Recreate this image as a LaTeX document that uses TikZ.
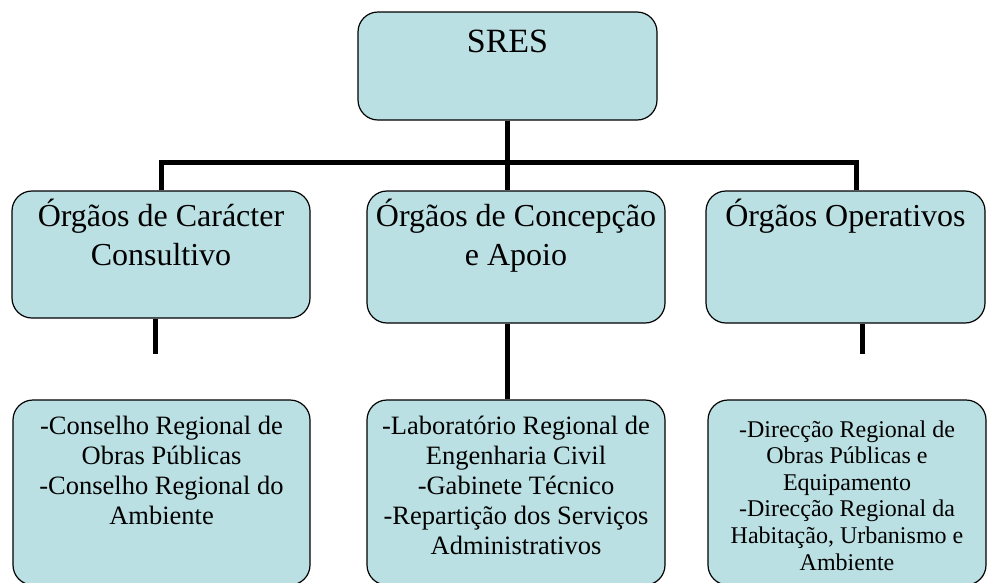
\documentclass[tikz,border=0pt]{standalone}
\usepackage{fontspec}
\setmainfont{Liberation Serif}
\usepackage{tikz}
\usetikzlibrary{positioning}
\definecolor{boxblue}{RGB}{187,224,227}
\tikzstyle{orgbox}=[draw,fill=boxblue,rounded corners=20pt,line width=1.2pt,inner sep=0pt]
\tikzstyle{link}=[line width=5pt]
\newcommand{\sresfont}{\fontsize{34}{40}\selectfont}
\newcommand{\grpfont}{\fontsize{32}{39}\selectfont}
\newcommand{\unitfont}{\fontsize{26.5}{30}\selectfont}
\newcommand{\smallunitfont}{\fontsize{24}{26.6}\selectfont}
\newcommand{\boxtext}[5]{\parbox[c][#2][t]{#1}{\vspace*{#3}\centering#4\strut#5\par}}

\begin{document}
\begin{tikzpicture}[x=1pt,y=-1pt]
\useasboundingbox (0,0) rectangle (992,582);
\node[orgbox] (A) at (507.5,66) {\boxtext{299pt}{108pt}{12pt}{\sresfont}{SRES}};
\node[orgbox] (B) at (161,254.5) {\boxtext{298pt}{127pt}{8pt}{\grpfont}{Órgãos de Carácter\\Consultivo}};
\node[orgbox] (C) at (516,257) {\boxtext{298pt}{132pt}{8pt}{\grpfont}{Órgãos de Concepção\\e Apoio}};
\node[orgbox] (D) at (845.5,257) {\boxtext{279pt}{132pt}{8pt}{\grpfont}{Órgãos Operativos}};
\node[orgbox] (E) at (161.5,492.5) {\boxtext{297pt}{185pt}{13pt}{\unitfont}{-Conselho Regional de\\Obras Públicas\\-Conselho Regional do\\Ambiente}};
\node[orgbox] (F) at (516,492.5) {\boxtext{298pt}{185pt}{13pt}{\unitfont}{-Laboratório Regional de\\Engenharia Civil\\-Gabinete Técnico\\-Repartição dos Serviços\\Administrativos}};
\node[orgbox] (G) at (847,492.5) {\boxtext{278pt}{185pt}{18.4pt}{\smallunitfont}{-Direcção Regional de\\Obras Públicas e\\Equipamento\\-Direcção Regional da\\Habitação, Urbanismo e\\Ambiente}};
\coordinate (L) at (161,162);
\coordinate (R) at (856,162);
\coordinate (e1) at (155,354);
\coordinate (g1) at (862,354);
\draw[link] (A.south) -- (A.south |- C.north);
\draw[link] (B.north -| L) -- (L) -- (R) -- (D.north -| R);
\draw[link] (B.south -| e1) -- (e1);
\draw[link] (C.south -| A.south) -- (F.north -| A.south);
\draw[link] (D.south -| g1) -- (g1);
\end{tikzpicture}
\end{document}
